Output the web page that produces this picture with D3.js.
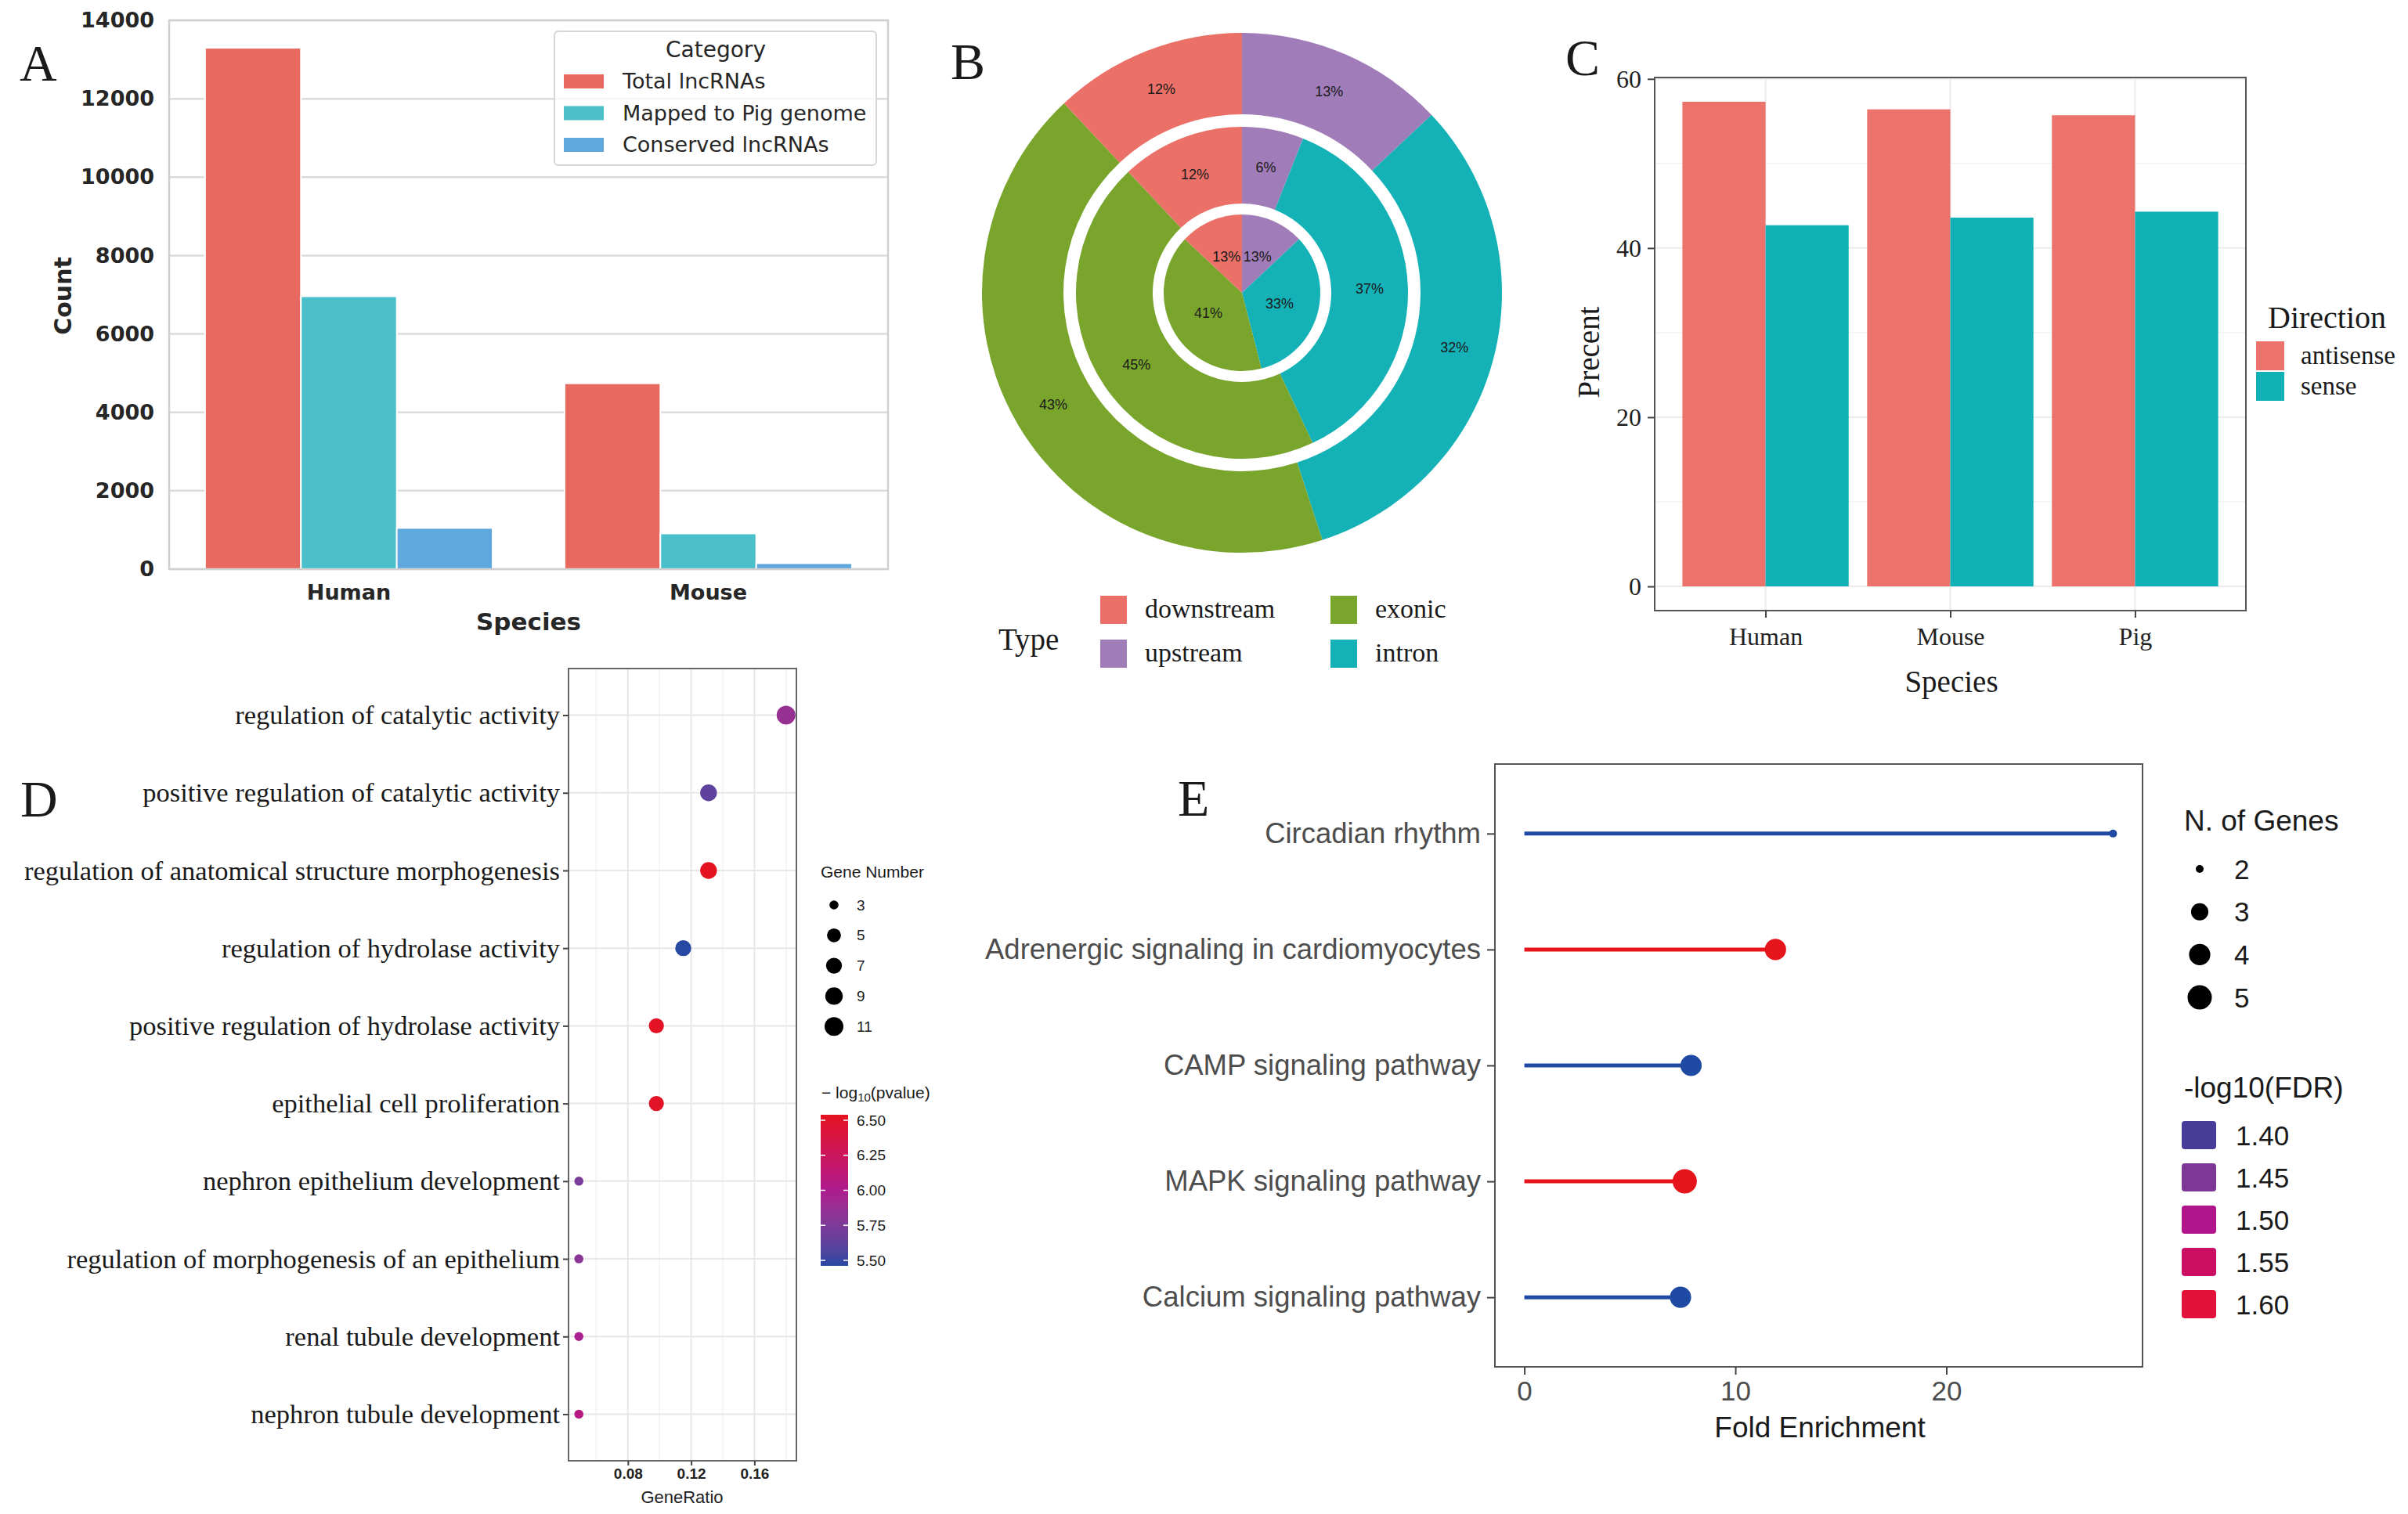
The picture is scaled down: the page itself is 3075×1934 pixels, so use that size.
<!DOCTYPE html>
<html>
<head>
<meta charset="utf-8">
<script src="https://cdn.jsdelivr.net/npm/d3@7"></script>
<style>
body { margin: 0; background: #fff; }
svg { display: block; }
</style>
</head>
<body>
<svg id="fig" width="3075" height="1934"></svg>
<script>
// ---- panel A: lncRNA counts ----
var speciesA = ["Human", "Mouse"];
var categoryA = ["Total lncRNAs", "Mapped to Pig genome", "Conserved lncRNAs"];
var countA = [[13300, 6960, 1050], [4740, 910, 150]];
var ticksA = [0, 2000, 4000, 6000, 8000, 10000, 12000, 14000];

// ---- panel B: nested pies (clockwise from 12 o'clock) ----
var typeOrderB = ["upstream", "intron", "exonic", "downstream"];
var innerPctB = [13, 33, 41, 13];
var middlePctB = [6, 37, 45, 12];
var outerPctB = [13, 32, 43, 12];
var legendTypesB = ["downstream", "upstream", "exonic", "intron"];

// ---- panel C: direction ----
var speciesC = ["Human", "Mouse", "Pig"];
var directionC = ["antisense", "sense"];
var antisenseC = [57.3, 56.4, 55.7];
var senseC = [42.7, 43.6, 44.3];
var ticksC = [0, 20, 40, 60];

// ---- panel D: GO dot plot ----
var termD = ["regulation of catalytic activity", "positive regulation of catalytic activity",
  "regulation of anatomical structure morphogenesis", "regulation of hydrolase activity",
  "positive regulation of hydrolase activity", "epithelial cell proliferation",
  "nephron epithelium development", "regulation of morphogenesis of an epithelium",
  "renal tubule development", "nephron tubule development"];
var ratioD = [0.180, 0.131, 0.131, 0.115, 0.098, 0.098, 0.049, 0.049, 0.049, 0.049];
var countD = [11, 8, 8, 7, 6, 6, 3, 3, 3, 3];
var pvalD = [5.88, 5.65, 6.50, 5.50, 6.48, 6.47, 5.75, 5.82, 5.98, 6.06];
var ticksD = [0.08, 0.12, 0.16];
var minorD = [0.06, 0.10, 0.14, 0.18];
var sizeLegendD = [3, 5, 7, 9, 11];
var colorTicksD = [5.50, 5.75, 6.00, 6.25, 6.50];

// ---- panel E: KEGG lollipop ----
var pathwayE = ["Circadian rhythm", "Adrenergic signaling in cardiomyocytes",
  "CAMP signaling pathway", "MAPK signaling pathway", "Calcium signaling pathway"];
var foldE = [27.9, 11.9, 7.9, 7.6, 7.4];
var genesE = [2, 4, 4, 5, 4];
var fdrE = [1.38, 1.61, 1.38, 1.61, 1.38];
var ticksE = [0, 10, 20];
var sizeLegendE = [2, 3, 4, 5];
var fdrLegendE = [1.40, 1.45, 1.50, 1.55, 1.60];

var svg = d3.select('#fig');
svg.append('rect').attr('width', 3075).attr('height', 1934).attr('fill', '#fff');

function letter(t, x, y) {
  svg.append('text').attr('x', x).attr('y', y).text(t)
    .style('font-family', 'Liberation Serif').style('font-size', '66px').attr('fill', '#1a1a1a');
}

// ================= A =================
var gA = svg.append('g');
var xA = d3.scaleBand().domain(speciesA).range([216, 1134]).paddingInner(0.2).paddingOuter(0.1);
var xA2 = d3.scaleBand().domain(categoryA).range([0, xA.bandwidth()]);
var yA = d3.scaleLinear().domain([0, 14000]).range([727, 26]);
var colA = d3.scaleOrdinal().domain(categoryA).range(['#e8695f', '#4bbfca', '#5fa8de']);

gA.selectAll('line.grid').data(ticksA).enter().append('line')
  .attr('x1', 216).attr('x2', 1134)
  .attr('y1', function(d) { return yA(d); }).attr('y2', function(d) { return yA(d); })
  .attr('stroke', '#dcdcdc').attr('stroke-width', 2.5);

speciesA.forEach(function(s, i) {
  gA.selectAll('rect.b' + i).data(countA[i]).enter().append('rect')
    .attr('x', function(d, j) { return xA(s) + xA2(categoryA[j]); })
    .attr('width', xA2.bandwidth())
    .attr('y', function(d) { return yA(d); })
    .attr('height', function(d) { return yA(0) - yA(d); })
    .attr('fill', function(d, j) { return colA(categoryA[j]); })
    .attr('stroke', '#fff').attr('stroke-width', 2);
});
gA.append('rect').attr('x', 216).attr('y', 26).attr('width', 918).attr('height', 701)
  .attr('fill', 'none').attr('stroke', '#d0d0d0').attr('stroke-width', 2.5);

var axA = gA.append('g').attr('transform', 'translate(216,0)')
  .call(d3.axisLeft(yA).tickValues(ticksA).tickFormat(d3.format('d')).tickSize(0).tickPadding(19));
axA.select('.domain').remove();
axA.selectAll('text').style('font-family', 'DejaVu Sans').style('font-weight', 'bold')
  .style('font-size', '27px').attr('fill', '#262626');
var axA2 = gA.append('g').attr('transform', 'translate(0,727)')
  .call(d3.axisBottom(xA).tickSize(0).tickPadding(20));
axA2.select('.domain').remove();
axA2.selectAll('text').style('font-family', 'DejaVu Sans').style('font-weight', 'bold')
  .style('font-size', '27px').attr('fill', '#262626');
gA.append('text').attr('x', 675).attr('y', 805).attr('text-anchor', 'middle').text('Species')
  .style('font-family', 'DejaVu Sans').style('font-weight', 'bold').style('font-size', '31px').attr('fill', '#262626');
gA.append('text').attr('transform', 'translate(91,378) rotate(-90)').attr('text-anchor', 'middle').text('Count')
  .style('font-family', 'DejaVu Sans').style('font-weight', 'bold').style('font-size', '30px').attr('fill', '#262626');

// legend
gA.append('rect').attr('x', 708).attr('y', 40).attr('width', 411).attr('height', 171).attr('rx', 5)
  .attr('fill', '#fff').attr('fill-opacity', 0.8).attr('stroke', '#d6d6d6').attr('stroke-width', 2);
gA.append('text').attr('x', 914).attr('y', 73).attr('text-anchor', 'middle').text('Category')
  .style('font-family', 'DejaVu Sans').style('font-size', '28px').attr('fill', '#262626');
var legA = gA.selectAll('g.leg').data(categoryA).enter().append('g')
  .attr('transform', function(d, i) { return 'translate(720,' + (104 + i * 40.5) + ')'; });
legA.append('rect').attr('x', 0).attr('y', -9).attr('width', 51).attr('height', 18)
  .attr('fill', function(d) { return colA(d); });
legA.append('text').attr('x', 75).attr('y', 0).attr('dy', '0.35em').text(function(d) { return d; })
  .style('font-family', 'DejaVu Sans').style('font-size', '27px').attr('fill', '#262626');
letter('A', 25, 103);

// ================= B =================
var gB = svg.append('g').attr('transform', 'translate(1586,374)');
var colB = d3.scaleOrdinal().domain(["downstream", "upstream", "exonic", "intron"])
  .range(['#ea7068', '#a07cb8', '#79a52d', '#14b2b7']);
var pieB = d3.pie().sort(null).value(function(d) { return d; });
var ringsB = [
  { vals: innerPctB, r0: 0, r1: 100 },
  { vals: middlePctB, r0: 114, r1: 212 },
  { vals: outerPctB, r0: 228, r1: 332 }
];
ringsB.forEach(function(ring) {
  var arc = d3.arc().innerRadius(ring.r0).outerRadius(ring.r1);
  var arcs = pieB(ring.vals);
  gB.selectAll(null).data(arcs).enter().append('path')
    .attr('d', arc)
    .attr('fill', function(d, i) { return colB(typeOrderB[i]); });
  gB.selectAll(null).data(arcs).enter().append('text')
    .attr('transform', function(d) { return 'translate(' + arc.centroid(d) + ')'; })
    .attr('text-anchor', 'middle').attr('dy', '0.35em')
    .text(function(d) { return d.data + '%'; })
    .style('font-family', 'Liberation Sans').style('font-size', '18px').attr('fill', '#1a1a1a');
});
// legend
var gBl = svg.append('g');
gBl.append('text').attr('x', 1275).attr('y', 830).text('Type')
  .style('font-family', 'Liberation Serif').style('font-size', '39px').attr('fill', '#1a1a1a');
var legB = gBl.selectAll('g.leg').data(legendTypesB).enter().append('g')
  .attr('transform', function(d, i) {
    return 'translate(' + (1405 + Math.floor(i / 2) * 294) + ',' + (779 + (i % 2) * 56) + ')';
  });
legB.append('rect').attr('x', 0).attr('y', -18).attr('width', 34).attr('height', 36)
  .attr('fill', function(d) { return colB(d); });
legB.append('text').attr('x', 57).attr('y', 0).attr('dy', '0.3em').text(function(d) { return d; })
  .style('font-family', 'Liberation Serif').style('font-size', '34px').attr('fill', '#1a1a1a');
letter('B', 1214, 101);

// ================= C =================
var gC = svg.append('g');
var maxC = d3.max(antisenseC.concat(senseC));
var yC = d3.scaleLinear().domain([-0.05 * maxC, maxC * 1.05]).range([780, 99]);
var xC = d3.scalePoint().domain(speciesC).range([2113, 2868]).padding(0.6);
var stepC = xC.step();
var colC = d3.scaleOrdinal().domain(directionC).range(['#ec736b', '#12b1b5']);

gC.selectAll(null).data([10, 30, 50]).enter().append('line')
  .attr('x1', 2113).attr('x2', 2868)
  .attr('y1', function(d) { return yC(d); }).attr('y2', function(d) { return yC(d); })
  .attr('stroke', '#f3f3f3').attr('stroke-width', 1.5);
gC.selectAll(null).data(ticksC).enter().append('line')
  .attr('x1', 2113).attr('x2', 2868)
  .attr('y1', function(d) { return yC(d); }).attr('y2', function(d) { return yC(d); })
  .attr('stroke', '#ebebeb').attr('stroke-width', 2);
gC.selectAll(null).data(speciesC).enter().append('line')
  .attr('y1', 99).attr('y2', 780)
  .attr('x1', function(d) { return xC(d); }).attr('x2', function(d) { return xC(d); })
  .attr('stroke', '#ebebeb').attr('stroke-width', 2);

gC.selectAll(null).data(antisenseC).enter().append('rect')
  .attr('x', function(d, i) { return xC(speciesC[i]) - 0.45 * stepC; })
  .attr('width', 0.45 * stepC)
  .attr('y', function(d) { return yC(d); })
  .attr('height', function(d) { return yC(0) - yC(d); })
  .attr('fill', colC('antisense'));
gC.selectAll(null).data(senseC).enter().append('rect')
  .attr('x', function(d, i) { return xC(speciesC[i]); })
  .attr('width', 0.45 * stepC)
  .attr('y', function(d) { return yC(d); })
  .attr('height', function(d) { return yC(0) - yC(d); })
  .attr('fill', colC('sense'));
gC.append('rect').attr('x', 2113).attr('y', 99).attr('width', 755).attr('height', 681)
  .attr('fill', 'none').attr('stroke', '#555').attr('stroke-width', 2);

var axC = gC.append('g').attr('transform', 'translate(2113,0)')
  .call(d3.axisLeft(yC).tickValues(ticksC).tickSize(9).tickPadding(8));
axC.select('.domain').remove();
axC.selectAll('line').attr('stroke', '#444').attr('stroke-width', 2);
axC.selectAll('text').style('font-family', 'Liberation Serif').style('font-size', '32px').attr('fill', '#222');
var axC2 = gC.append('g').attr('transform', 'translate(0,780)')
  .call(d3.axisBottom(xC).tickSize(9).tickPadding(12));
axC2.select('.domain').remove();
axC2.selectAll('line').attr('stroke', '#444').attr('stroke-width', 2);
axC2.selectAll('text').style('font-family', 'Liberation Serif').style('font-size', '32px').attr('fill', '#222');
gC.append('text').attr('x', 2492).attr('y', 884).attr('text-anchor', 'middle').text('Species')
  .style('font-family', 'Liberation Serif').style('font-size', '39px').attr('fill', '#1a1a1a');
gC.append('text').attr('transform', 'translate(2042,450) rotate(-90)').attr('text-anchor', 'middle').text('Precent')
  .style('font-family', 'Liberation Serif').style('font-size', '39px').attr('fill', '#1a1a1a');
gC.append('text').attr('x', 2896).attr('y', 419).text('Direction')
  .style('font-family', 'Liberation Serif').style('font-size', '40px').attr('fill', '#1a1a1a');
var legC = gC.selectAll('g.leg').data(directionC).enter().append('g')
  .attr('transform', function(d, i) { return 'translate(2881,' + (436 + i * 39) + ')'; });
legC.append('rect').attr('width', 36).attr('height', 37).attr('fill', function(d) { return colC(d); });
legC.append('text').attr('x', 57).attr('y', 19).attr('dy', '0.3em').text(function(d) { return d; })
  .style('font-family', 'Liberation Serif').style('font-size', '33px').attr('fill', '#1a1a1a');
letter('C', 1999, 96);

// ================= D =================
var gD = svg.append('g');
var extD = d3.extent(ratioD), padD = (extD[1] - extD[0]) * 0.05;
var xD = d3.scaleLinear().domain([extD[0] - padD, extD[1] + padD]).range([726, 1017]);
var yD = d3.scalePoint().domain(termD).range([854, 1866]).padding(0.6);
var colD = d3.scaleLinear().domain([5.5, 6.0, 6.5]).range(['#2748a3', '#ae1b8e', '#e5131f'])
  .interpolate(d3.interpolateLab).clamp(true);
var rD = d3.scaleLinear().domain([0, 1]).range([5.8, 12]);
function sizeD(n) { return rD(Math.sqrt((n - 3) / 8)); }

gD.selectAll(null).data(minorD).enter().append('line')
  .attr('y1', 854).attr('y2', 1866)
  .attr('x1', function(d) { return xD(d); }).attr('x2', function(d) { return xD(d); })
  .attr('stroke', '#f3f3f3').attr('stroke-width', 1.5);
gD.selectAll(null).data(ticksD).enter().append('line')
  .attr('y1', 854).attr('y2', 1866)
  .attr('x1', function(d) { return xD(d); }).attr('x2', function(d) { return xD(d); })
  .attr('stroke', '#e8e8e8').attr('stroke-width', 2);
gD.selectAll(null).data(termD).enter().append('line')
  .attr('x1', 726).attr('x2', 1017)
  .attr('y1', function(d) { return yD(d); }).attr('y2', function(d) { return yD(d); })
  .attr('stroke', '#e8e8e8').attr('stroke-width', 2);
gD.append('rect').attr('x', 726).attr('y', 854).attr('width', 291).attr('height', 1012)
  .attr('fill', 'none').attr('stroke', '#666').attr('stroke-width', 2);
gD.selectAll(null).data(termD).enter().append('circle')
  .attr('cx', function(d, i) { return xD(ratioD[i]); })
  .attr('cy', function(d) { return yD(d); })
  .attr('r', function(d, i) { return sizeD(countD[i]); })
  .attr('fill', function(d, i) { return colD(pvalD[i]); });

var axD = gD.append('g').attr('transform', 'translate(726,0)')
  .call(d3.axisLeft(yD).tickSize(7).tickPadding(4));
axD.select('.domain').remove();
axD.selectAll('line').attr('stroke', '#444').attr('stroke-width', 2);
axD.selectAll('text').style('font-family', 'Liberation Serif').style('font-size', '34.5px').attr('fill', '#1a1a1a');
var axD2 = gD.append('g').attr('transform', 'translate(0,1866)')
  .call(d3.axisBottom(xD).tickValues(ticksD).tickFormat(d3.format('.2f')).tickSize(6).tickPadding(4));
axD2.select('.domain').remove();
axD2.selectAll('line').attr('stroke', '#444').attr('stroke-width', 2);
axD2.selectAll('text').style('font-family', 'Liberation Sans').style('font-weight', 'bold')
  .style('font-size', '19px').attr('fill', '#222');
gD.append('text').attr('x', 871).attr('y', 1920).attr('text-anchor', 'middle').text('GeneRatio')
  .style('font-family', 'Liberation Sans').style('font-size', '22px').attr('fill', '#222');

// size legend
gD.append('text').attr('x', 1048).attr('y', 1121).text('Gene Number')
  .style('font-family', 'Liberation Sans').style('font-size', '21px').attr('fill', '#1a1a1a');
var legD = gD.selectAll('g.legs').data(sizeLegendD).enter().append('g')
  .attr('transform', function(d, i) { return 'translate(1065,' + (1156 + i * 38.8) + ')'; });
legD.append('circle').attr('r', function(d) { return sizeD(d); }).attr('fill', '#000');
legD.append('text').attr('x', 29).attr('dy', '0.35em').text(function(d) { return d; })
  .style('font-family', 'Liberation Sans').style('font-size', '19px').attr('fill', '#1a1a1a');
// colour bar
var tD = gD.append('text').attr('x', 1049).attr('y', 1403)
  .style('font-family', 'Liberation Sans').style('font-size', '21px').attr('fill', '#1a1a1a');
tD.append('tspan').text('\u2212 log');
tD.append('tspan').attr('baseline-shift', '-25%').style('font-size', '15px').text('10');
tD.append('tspan').text('(pvalue)');
var cbD = d3.scaleLinear().domain([5.5, 6.5]).range([1610, 1431]);
var gradD = svg.append('defs').append('linearGradient').attr('id', 'gradD')
  .attr('x1', 0).attr('y1', 1).attr('x2', 0).attr('y2', 0);
d3.range(0, 11).forEach(function(k) {
  var v = 5.5 + k * 0.1;
  gradD.append('stop').attr('offset', (k * 10) + '%').attr('stop-color', colD(v));
});
gD.append('rect').attr('x', 1048).attr('y', 1424).attr('width', 35).attr('height', 193).attr('fill', 'url(#gradD)');
gD.selectAll(null).data(colorTicksD).enter().append('path')
  .attr('d', function(d) { var y = cbD(d); return 'M1048,' + y + 'h6M1077,' + y + 'h6'; })
  .attr('stroke', '#fff').attr('stroke-width', 1.5);
gD.selectAll(null).data(colorTicksD).enter().append('text')
  .attr('x', 1094).attr('y', function(d) { return cbD(d); }).attr('dy', '0.35em')
  .text(function(d) { return d.toFixed(2); })
  .style('font-family', 'Liberation Sans').style('font-size', '19px').attr('fill', '#1a1a1a');
letter('D', 26, 1043);

// ================= E =================
var gE = svg.append('g');
var maxE = d3.max(foldE);
var xE = d3.scaleLinear().domain([-0.05 * maxE, maxE * 1.05]).range([1909, 2736]);
var yE = d3.scalePoint().domain(pathwayE).range([976, 1746]).padding(0.6);
var colE = d3.scaleLinear().domain([1.38, 1.40, 1.45, 1.50, 1.55, 1.60, 1.61])
  .range(['#1f4aa3', '#473c98', '#7e3795', '#b0158b', '#cc0f62', '#e2123a', '#e6151c']).clamp(true);
var rE = d3.scaleLinear().domain([0, 1]).range([5, 15.5]);
function sizeE(n) { return rE(Math.sqrt((n - 2) / 3)); }

gE.append('rect').attr('x', 1909).attr('y', 976).attr('width', 827).attr('height', 770)
  .attr('fill', 'none').attr('stroke', '#555').attr('stroke-width', 2);
gE.selectAll(null).data(pathwayE).enter().append('line')
  .attr('x1', xE(0)).attr('x2', function(d, i) { return xE(foldE[i]); })
  .attr('y1', function(d) { return yE(d); }).attr('y2', function(d) { return yE(d); })
  .attr('stroke', function(d, i) { return colE(fdrE[i]); }).attr('stroke-width', 5);
gE.selectAll(null).data(pathwayE).enter().append('circle')
  .attr('cx', function(d, i) { return xE(foldE[i]); })
  .attr('cy', function(d) { return yE(d); })
  .attr('r', function(d, i) { return sizeE(genesE[i]); })
  .attr('fill', function(d, i) { return colE(fdrE[i]); });

var axE = gE.append('g').attr('transform', 'translate(1909,0)')
  .call(d3.axisLeft(yE).tickSize(10).tickPadding(8));
axE.select('.domain').remove();
axE.selectAll('line').attr('stroke', '#444').attr('stroke-width', 2);
axE.selectAll('text').style('font-family', 'Liberation Sans').style('font-size', '36.5px').attr('fill', '#4d4d4d');
var axE2 = gE.append('g').attr('transform', 'translate(0,1746)')
  .call(d3.axisBottom(xE).tickValues(ticksE).tickSize(10).tickPadding(8));
axE2.select('.domain').remove();
axE2.selectAll('line').attr('stroke', '#444').attr('stroke-width', 2);
axE2.selectAll('text').style('font-family', 'Liberation Sans').style('font-size', '35px').attr('fill', '#4d4d4d');
gE.append('text').attr('x', 2324).attr('y', 1836).attr('text-anchor', 'middle').text('Fold Enrichment')
  .style('font-family', 'Liberation Sans').style('font-size', '37px').attr('fill', '#1a1a1a');

gE.append('text').attr('x', 2789).attr('y', 1061).text('N. of Genes')
  .style('font-family', 'Liberation Sans').style('font-size', '37px').attr('fill', '#1a1a1a');
var legE = gE.selectAll('g.legs').data(sizeLegendE).enter().append('g')
  .attr('transform', function(d, i) { return 'translate(2809,' + (1110 + i * 54.7) + ')'; });
legE.append('circle').attr('r', function(d) { return sizeE(d); }).attr('fill', '#000');
legE.append('text').attr('x', 44).attr('dy', '0.36em').text(function(d) { return d; })
  .style('font-family', 'Liberation Sans').style('font-size', '35px').attr('fill', '#1a1a1a');
gE.append('text').attr('x', 2789).attr('y', 1402).text('-log10(FDR)')
  .style('font-family', 'Liberation Sans').style('font-size', '37px').attr('fill', '#1a1a1a');
var legE2 = gE.selectAll('g.legc').data(fdrLegendE).enter().append('g')
  .attr('transform', function(d, i) { return 'translate(2786,' + (1450 + i * 54) + ')'; });
legE2.append('rect').attr('y', -18).attr('width', 44).attr('height', 36).attr('rx', 4)
  .attr('fill', function(d) { return colE(d); });
legE2.append('text').attr('x', 69).attr('dy', '0.36em').text(function(d) { return d.toFixed(2); })
  .style('font-family', 'Liberation Sans').style('font-size', '35px').attr('fill', '#1a1a1a');
letter('E', 1504, 1042);
</script>
</body>
</html>
